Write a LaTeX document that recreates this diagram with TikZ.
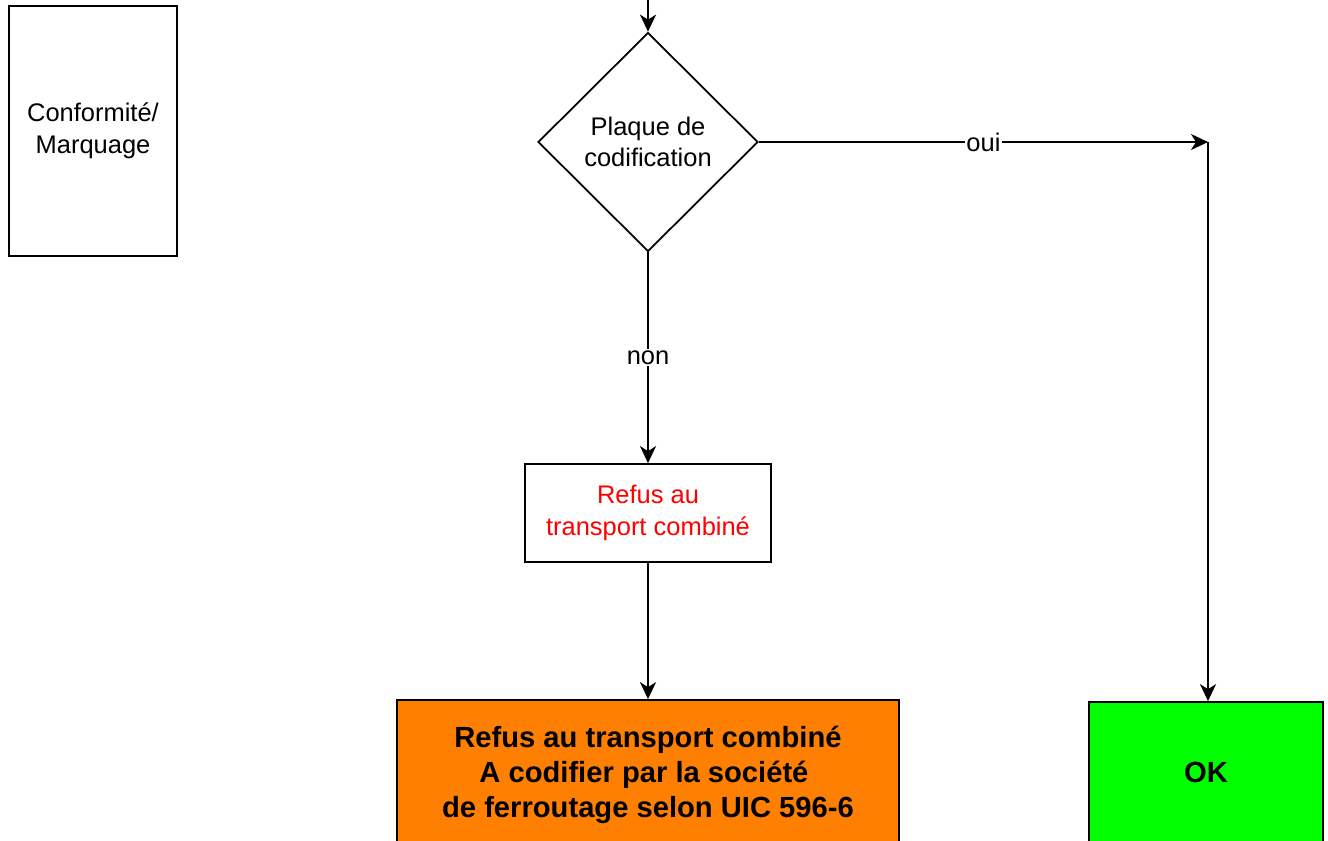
\documentclass[tikz,border=0pt]{standalone}
\usepackage{fontspec}
\setmainfont{Liberation Sans}
\usetikzlibrary{shapes.geometric,arrows.meta}
\definecolor{refusorange}{RGB}{255,128,0}
\begin{document}
\begin{tikzpicture}[
  x=0.02cm, y=-0.02cm,
  every node/.style={font=\fontsize{14.5}{18}\selectfont, align=center},
  box/.style={draw, line width=1pt, inner sep=0pt},
  decision/.style={diamond, draw, line width=1pt, inner sep=0pt,
                   minimum width=4.4cm, minimum height=4.38cm},
  result/.style={box, font=\fontsize{16.6}{20}\selectfont\bfseries},
  flow/.style={line width=1.1pt,
               -{Stealth[length=0.34cm, width=0.32cm, inset=0.1cm]}},
  tag/.style={fill=white, inner sep=1pt}
]
\clip (0,0) rectangle (1328,840);
\node[box, minimum width=3.36cm, minimum height=5cm] (conf) at (93,131)
  {Conformité/\\Marquage};
\node[decision] (plaque) at (648,142) {Plaque de\\codification};
\node[box, text=red, minimum width=4.92cm, minimum height=1.96cm] (refus)
  at (648,513) {Refus au\\transport combiné};
\node[result, fill=refusorange, minimum width=10.04cm, minimum height=3cm]
  (ferrou) at (648,775)
  {Refus au transport combiné\\A codifier par la société~~\\de ferroutage selon UIC 596-6};
\node[result, fill=green, minimum width=4.68cm, minimum height=2.8cm] (ok)
  at (1206,772) {OK};

\coordinate (entree) at (648,-5);
\coordinate (coin) at (1208,142);

\draw[flow] (entree) -- (plaque.north);
\draw[flow] (plaque.east) -- node[tag] {oui} (coin);
\draw[flow] (coin) -- (coin |- ok.north);
\draw[flow] (plaque.south) -- node[tag] {non} (refus.north);
\draw[flow] (refus.south) -- (refus.south |- ferrou.north);
\end{tikzpicture}
\end{document}
